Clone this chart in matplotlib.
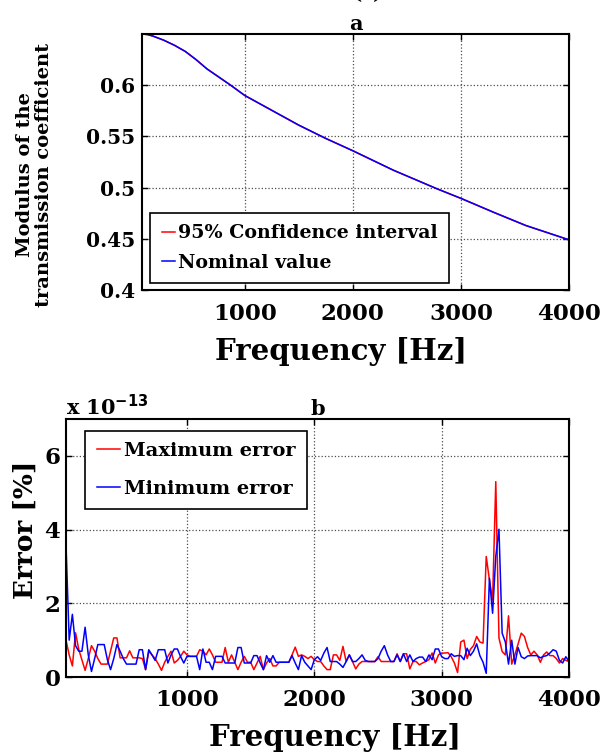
import matplotlib
matplotlib.use("Agg")
import matplotlib.pyplot as plt
import numpy as np

plt.rcParams['font.family'] = ['DejaVu Serif']
plt.rcParams['font.weight'] = 'bold'

# --- panel a: modulus of the transmission coefficient ---
freq_a = [50, 100, 150, 200, 250, 350, 450, 550, 650, 760, 870, 1000, 1250,
          1500, 1750, 2000, 2375, 2775, 3000, 3300, 3600, 4000]
nominal = [0.650, 0.6495, 0.648, 0.646, 0.644, 0.639, 0.633, 0.625, 0.616,
           0.608, 0.600, 0.590, 0.5755, 0.561, 0.548, 0.536, 0.517, 0.499,
           0.4895, 0.476, 0.463, 0.449]
# confidence bounds coincide with the nominal curve at this scale
ci_bound = nominal

# --- panel b: error (in units of 1e-13 %) on a 25 Hz grid from 50 to 4000 Hz ---
err_freq = list(range(50, 4001, 25))
max_err = [
    1.0, 0.6, 0.3, 1.2, 0.75, 0.47, 0.18, 0.5, 0.85, 0.7,
    0.5, 0.35, 0.35, 0.35, 0.7, 1.06, 1.06, 0.52, 0.52, 0.52,
    0.71, 0.52, 0.52, 0.52, 0.5, 0.2, 0.7, 0.6, 0.5, 0.35,
    0.18, 0.4, 0.56, 0.7, 0.38, 0.45, 0.56, 0.7, 0.6,
    # 1025 - 2000
    0.56, 0.56, 0.56, 0.74, 0.7, 0.6, 0.76, 0.6, 0.4, 0.4,
    0.4, 0.8, 0.4, 0.6, 0.4, 0.2, 0.4, 0.56, 0.4, 0.4,
    0.2, 0.38, 0.56, 0.2, 0.38, 0.5, 0.3, 0.3, 0.4, 0.4,
    0.4, 0.4, 0.6, 0.81, 0.56, 0.6, 0.56, 0.5, 0.56, 0.47,
    # 2025 - 3000
    0.42, 0.42, 0.3, 0.2, 0.2, 0.6, 0.6, 0.45, 0.83, 0.42,
    0.6, 0.42, 0.22, 0.35, 0.42, 0.42, 0.42, 0.42, 0.42, 0.55,
    0.42, 0.42, 0.42, 0.42, 0.42, 0.63, 0.42, 0.63, 0.63, 0.22,
    0.42, 0.42, 0.33, 0.38, 0.42, 0.47, 0.65, 0.38, 0.6, 0.65,
    # 3025 - 4000
    0.65, 0.66, 0.55, 0.38, 0.12, 0.95, 1.0, 0.5, 0.75, 0.85,
    1.1, 0.95, 0.92, 3.27, 2.64, 2.09, 5.3, 1.06, 0.69, 0.6,
    1.66, 0.35, 0.6, 0.9, 1.19, 1.1, 0.8, 0.6, 0.7, 0.6,
    0.4, 0.6, 0.68, 0.58, 0.58, 0.5, 0.38, 0.5, 0.45, 0.42,
]
min_err = [
    3.6, 1.0, 1.7, 0.85, 0.7, 0.7, 1.35, 0.6, 0.15, 0.5,
    0.88, 0.88, 0.88, 0.47, 0.2, 0.5, 0.88, 0.7, 0.5, 0.35,
    0.35, 0.35, 0.35, 0.74, 0.74, 0.2, 0.74, 0.6, 0.45, 0.74,
    0.74, 0.74, 0.38, 0.6, 0.76, 0.76, 0.55, 0.38, 0.56,
    # 1025 - 2000
    0.56, 0.56, 0.56, 0.2, 0.76, 0.4, 0.4, 0.2, 0.56, 0.56,
    0.56, 0.38, 0.38, 0.38, 0.38, 0.8, 0.8, 0.38, 0.38, 0.38,
    0.58, 0.58, 0.38, 0.2, 0.58, 0.4, 0.58, 0.4, 0.4, 0.4,
    0.4, 0.4, 0.58, 0.38, 0.2, 0.58, 0.4, 0.3, 0.2, 0.47,
    # 2025 - 3000
    0.55, 0.45, 0.65, 0.8, 0.42, 0.42, 0.42, 0.35, 0.26, 0.42,
    0.6, 0.42, 0.42, 0.5, 0.6, 0.45, 0.42, 0.42, 0.42, 0.5,
    0.7, 0.85, 0.6, 0.42, 0.42, 0.6, 0.42, 0.63, 0.42, 0.6,
    0.42, 0.5, 0.54, 0.54, 0.42, 0.6, 0.47, 0.76, 0.76, 0.55,
    # 3025 - 4000
    0.5, 0.5, 0.63, 0.56, 0.58, 0.58, 0.47, 0.78, 0.58, 0.7,
    0.9, 0.58, 0.4, 0.1, 2.68, 1.73, 3.27, 4.01, 1.19, 0.95,
    0.35, 1.0, 0.35, 0.8, 0.55, 0.5, 0.57, 0.58, 0.58, 0.58,
    0.52, 0.56, 0.58, 0.65, 0.74, 0.7, 0.45, 0.38, 0.55, 0.42,
]

W, H = 602, 753
fig = plt.figure(figsize=(W / 100, H / 100), dpi=100)


def matlab_axes(rect):
    ax = fig.add_axes(rect)
    ax.tick_params(direction='in', top=True, right=True, length=4,
                   width=1)
    ax.tick_params(axis='x', labelsize=16.5, pad=9)
    for s in ax.spines.values():
        s.set_linewidth(1.5)
    ax.grid(True, linestyle=':', color='0.3', linewidth=0.9)
    ax.set_axisbelow(True)
    return ax


# cut-off figure heading at the very top
fig.text(367 / W, 1 - 3 / H, '(c)', ha='center', va='bottom', fontsize=14)

# panel a
ax1 = matlab_axes([142 / W, 1 - 290 / H, 427 / W, 256 / H])
ax1.tick_params(axis='y', labelsize=14.5, pad=5)
ax1.plot(freq_a, ci_bound, color='red', lw=1.1, label='95% Confidence interval')
ax1.plot(freq_a, nominal, color='blue', lw=1.1, label='Nominal value')
ax1.set_xlim(50, 4000)
ax1.set_ylim(0.4, 0.65)
ax1.set_xticks([1000, 2000, 3000, 4000])
ax1.set_yticks([0.4, 0.45, 0.5, 0.55, 0.6])
ax1.set_yticklabels(['0.4', '0.45', '0.5', '0.55', '0.6'])
ax1.set_title('a', fontsize=15, fontweight='bold', pad=3)
ax1.set_xlabel('Frequency [Hz]', fontsize=21, fontweight='bold')
ax1.xaxis.set_label_coords(0.466, -0.185)
ax1.set_ylabel('Modulus of the\ntransmission coefficient', fontsize=14,
               fontweight='bold', linespacing=1.05)
ax1.yaxis.set_label_coords(-0.208, 0.45)
leg1 = ax1.legend(loc='lower left', fontsize=13.7, handlelength=0.7,
                  handletextpad=0.15, borderpad=0.6, labelspacing=0.6,
                  borderaxespad=0, fancybox=False, framealpha=1,
                  edgecolor='black', bbox_to_anchor=(0.019, 0.027))
leg1.get_frame().set_linewidth(1.2)

# panel b
ax2 = matlab_axes([66 / W, 1 - 677 / H, 503 / W, 258 / H])
ax2.tick_params(axis='y', labelsize=16.5, pad=4)
ax2.plot(err_freq, max_err, color='red', lw=1.1, label='Maximum error')
ax2.plot(err_freq, min_err, color='blue', lw=1.1, label='Minimum error')
ax2.set_xlim(50, 4000)
ax2.set_ylim(0, 7)
ax2.set_xticks([1000, 2000, 3000, 4000])
ax2.set_yticks([0, 2, 4, 6])
ax2.set_title('b', fontsize=15, fontweight='bold', pad=3)
ax2.text(0.0, 1.0, r'x 10$^{\mathbf{-13}}$', transform=ax2.transAxes,
         fontsize=15, fontweight='bold', va='bottom', ha='left')
ax2.set_xlabel('Frequency [Hz]', fontsize=21, fontweight='bold')
ax2.xaxis.set_label_coords(0.535, -0.18)
ax2.set_ylabel('Error [%]', fontsize=19, fontweight='bold')
ax2.yaxis.set_label_coords(-0.056, 0.57)
leg2 = ax2.legend(loc='upper left', fontsize=14, handlelength=1.2,
                  handletextpad=0.2, borderpad=0.6, labelspacing=1.0,
                  borderaxespad=0, fancybox=False, framealpha=1,
                  edgecolor='black', bbox_to_anchor=(0.038, 0.955))
leg2.get_frame().set_linewidth(1.2)

fig.savefig('out.png', dpi=100)
